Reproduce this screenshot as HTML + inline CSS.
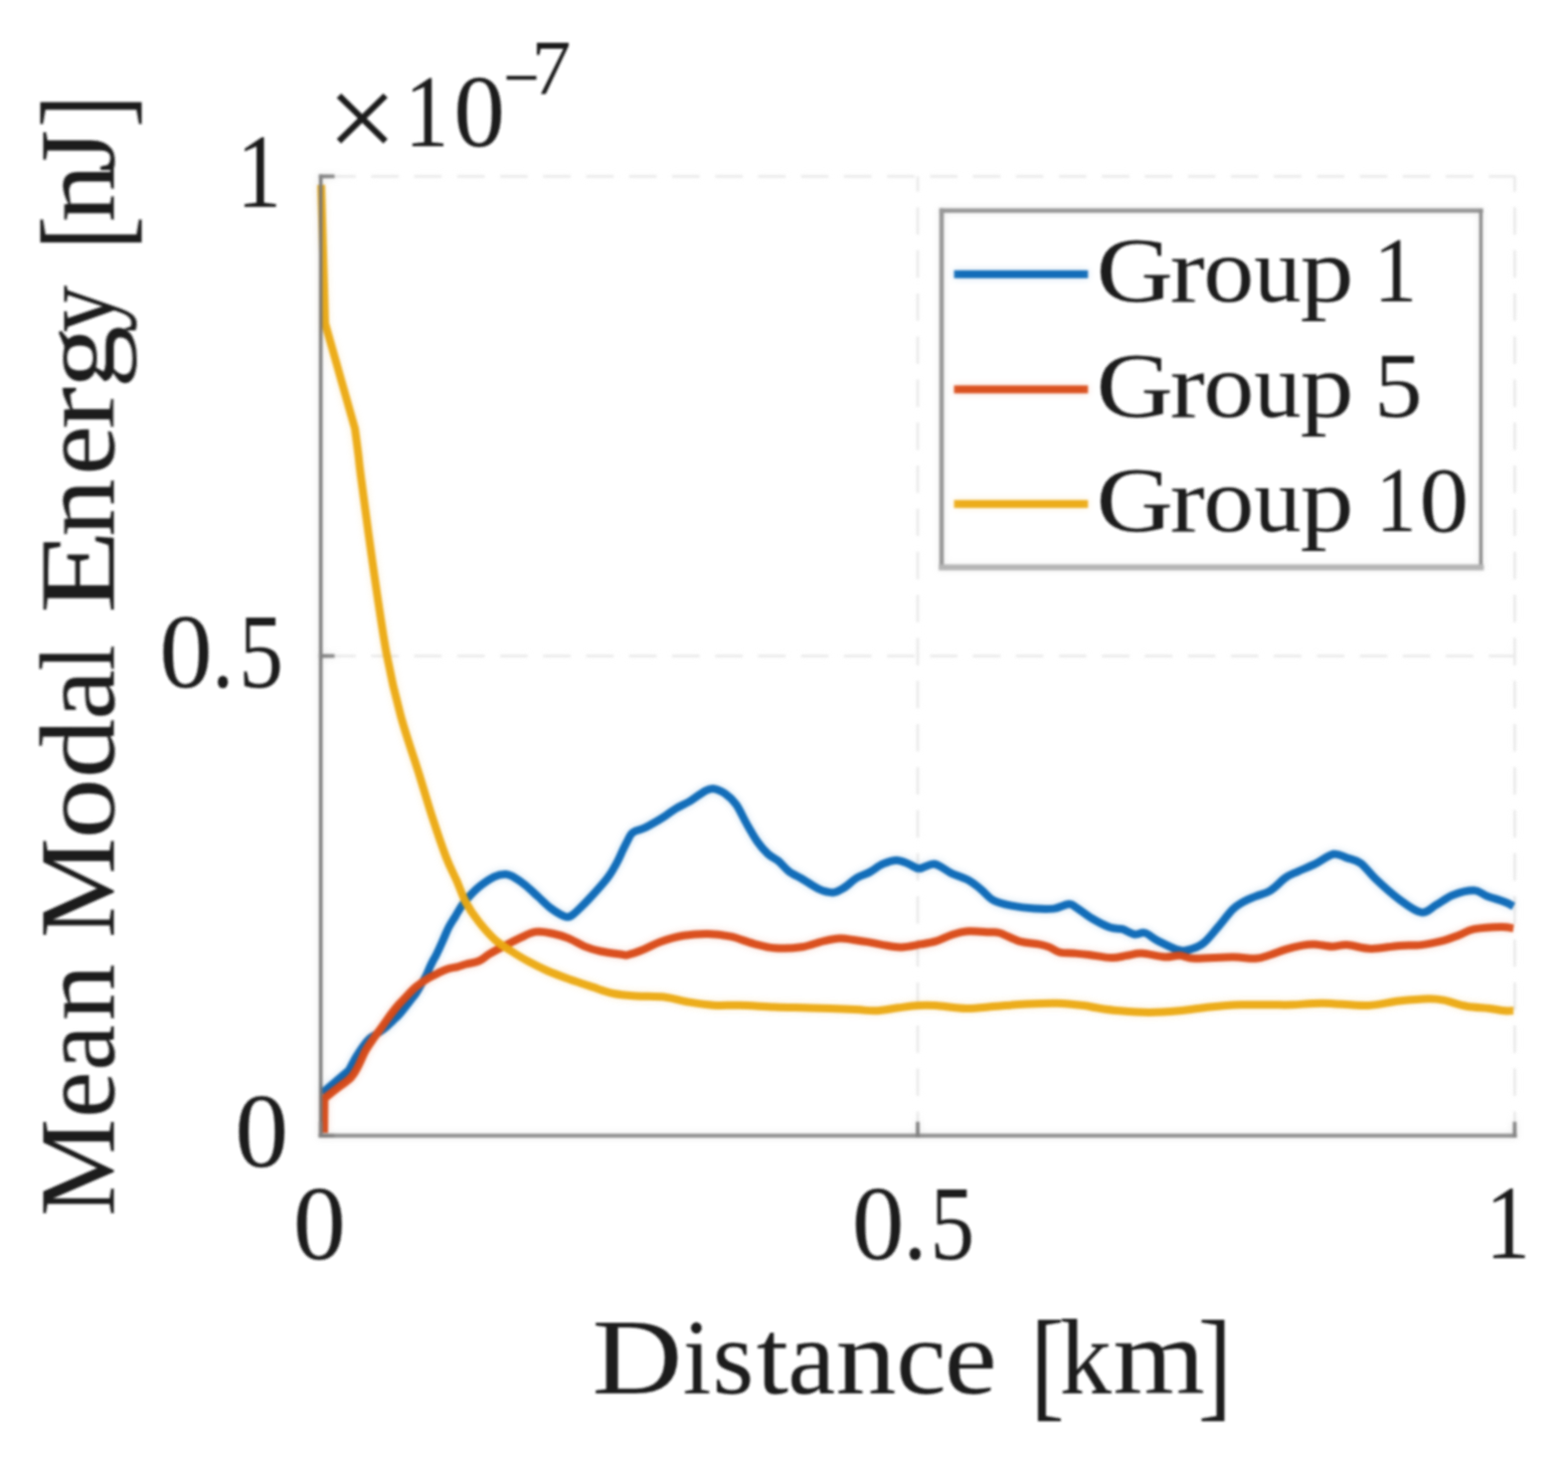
<!DOCTYPE html>
<html><head><meta charset="utf-8"><title>Mean Modal Energy vs Distance</title>
<style>
html,body{margin:0;padding:0;background:#fff;}
body{width:1577px;height:1469px;overflow:hidden;}
svg{display:block;font-family:"Liberation Serif","DejaVu Serif",serif;}

</style></head><body>
<svg width="1577" height="1469" viewBox="0 0 1577 1469">
<defs><filter id="soft" x="-2%" y="-2%" width="104%" height="104%" color-interpolation-filters="sRGB"><feGaussianBlur in="SourceGraphic" stdDeviation="1.2" result="a"/><feGaussianBlur in="SourceGraphic" stdDeviation="3.5" result="b"/><feComposite in="a" in2="b" operator="arithmetic" k1="0" k2="0.8" k3="0.2" k4="0"/></filter><filter id="softt" x="-2%" y="-2%" width="104%" height="104%"><feGaussianBlur stdDeviation="0.9"/></filter></defs>
<rect width="1577" height="1469" fill="#fff"/>
<g filter="url(#soft)">
<g stroke="#e9e9e9" stroke-width="2.8" fill="none">
<line x1="322.60" y1="177.30" x2="1523.40" y2="177.30" stroke-dasharray="27.7 15.53" stroke-dashoffset="-7.47"/>
<line x1="322.60" y1="659.55" x2="1523.40" y2="659.55" stroke-dasharray="27.7 15.53" stroke-dashoffset="-7.47"/>
<line x1="923.00" y1="177.30" x2="923.00" y2="1141.80" stroke-dasharray="27.7 15.6" stroke-dashoffset="-31.0"/>
<line x1="1523.40" y1="177.30" x2="1523.40" y2="1141.80" stroke-dasharray="27.7 15.6" stroke-dashoffset="-31.0"/>
</g>
<path d="M323.8,1099.2 L351.0,1076.0 C352.2,1073.8 355.8,1066.8 358.1,1062.9 C360.4,1059.0 362.6,1055.6 364.8,1052.5 C367.0,1049.4 369.1,1046.7 371.5,1044.5 C373.9,1042.3 376.4,1041.2 379.0,1039.5 C381.6,1037.8 384.3,1036.2 387.0,1034.0 C389.7,1031.8 392.5,1028.9 395.0,1026.5 C397.5,1024.1 399.8,1022.0 402.0,1019.5 C404.2,1017.0 406.6,1013.9 408.5,1011.5 C410.4,1009.1 411.9,1007.1 413.5,1005.0 C415.1,1002.9 416.7,1001.3 418.4,998.8 C420.1,996.3 421.8,993.0 423.5,990.0 C425.2,987.0 427.0,984.0 428.5,981.0 C430.0,978.0 431.2,974.7 432.5,972.0 C433.8,969.3 434.9,967.0 436.0,965.0 C437.1,963.0 437.3,963.1 438.8,960.0 C440.3,956.9 443.1,950.8 445.1,946.3 C447.2,941.8 449.0,936.8 451.1,932.7 C453.2,928.6 455.5,925.4 457.7,921.8 C459.9,918.2 462.1,914.0 464.2,910.9 C466.3,907.8 467.6,906.2 470.5,903.0 C473.4,899.8 477.5,895.3 481.9,891.7 C486.3,888.1 492.6,883.7 497.0,881.6 C501.4,879.5 505.3,879.0 508.5,879.0 C511.7,879.0 512.6,879.7 516.0,881.6 C519.4,883.5 524.5,887.0 528.8,890.4 C533.0,893.8 537.3,898.1 541.5,901.9 C545.7,905.7 549.9,910.1 554.1,913.3 C558.3,916.5 563.4,919.6 566.8,920.9 C570.2,922.2 571.2,922.6 574.4,920.9 C577.6,919.2 582.2,914.2 585.8,910.7 C589.4,907.2 591.9,904.5 596.0,900.0 C600.1,895.5 606.7,888.1 610.2,883.7 C613.7,879.3 615.1,876.7 617.0,873.5 C618.9,870.3 620.2,867.9 621.8,864.7 C623.4,861.5 625.0,857.6 626.5,854.5 C628.0,851.4 629.2,848.9 630.6,846.3 C632.0,843.7 633.2,840.6 634.7,838.8 C636.2,837.0 637.3,836.4 639.5,835.4 C641.7,834.4 644.6,834.1 647.7,832.7 C650.8,831.3 654.5,829.1 657.9,827.2 C661.3,825.3 664.4,823.5 668.1,821.1 C671.8,818.7 675.6,815.5 680.0,812.9 C684.4,810.3 689.5,808.3 694.3,805.4 C699.0,802.5 704.7,797.8 708.5,795.7 C712.3,793.6 713.8,792.6 717.3,793.0 C720.8,793.4 725.9,795.6 729.7,798.3 C733.6,800.9 736.9,803.9 740.4,808.9 C743.9,813.9 747.5,822.2 751.0,828.4 C754.5,834.6 758.1,841.1 761.6,846.1 C765.1,851.1 768.7,855.2 772.2,858.5 C775.7,861.8 779.2,862.6 782.8,865.6 C786.3,868.6 789.4,873.1 793.5,876.2 C797.6,879.3 802.6,881.2 807.6,884.2 C812.6,887.2 818.5,891.7 823.5,893.9 C828.5,896.1 833.6,897.5 837.7,897.4 C841.8,897.2 844.2,895.5 848.3,893.0 C852.4,890.5 857.9,885.0 862.2,882.4 C866.6,879.8 870.1,879.4 874.4,877.1 C878.7,874.8 883.4,870.7 888.0,868.7 C892.6,866.7 897.5,864.9 901.8,864.9 C906.1,864.9 910.1,867.3 913.9,868.7 C917.7,870.1 920.3,873.3 924.6,873.3 C928.9,873.3 934.5,868.0 939.8,868.7 C945.1,869.5 950.7,875.0 956.5,877.8 C962.3,880.6 969.7,882.6 974.8,885.4 C979.9,888.2 982.9,891.3 987.0,894.6 C991.1,897.9 994.1,902.5 999.2,905.2 C1004.3,907.9 1010.5,909.2 1017.4,910.6 C1024.2,912.0 1033.2,913.1 1040.3,913.6 C1047.4,914.1 1054.2,914.4 1060.0,913.6 C1065.8,912.8 1071.5,909.1 1075.3,909.0 C1079.1,908.9 1079.1,910.4 1082.9,912.8 C1086.7,915.2 1092.7,920.2 1098.3,923.5 C1103.9,926.8 1111.4,930.8 1116.5,932.6 C1121.6,934.4 1124.6,933.1 1128.7,934.2 C1132.8,935.4 1137.1,938.9 1140.9,939.5 C1144.7,940.1 1147.5,936.9 1151.5,938.0 C1155.5,939.1 1159.4,943.4 1165.2,946.3 C1171.0,949.2 1180.9,954.2 1186.5,955.5 C1192.1,956.8 1194.6,955.3 1198.7,954.0 C1202.8,952.7 1206.6,951.5 1210.9,947.9 C1215.2,944.3 1219.8,938.2 1224.6,932.6 C1229.4,927.0 1235.5,918.7 1239.8,914.4 C1244.1,910.1 1246.7,909.0 1250.5,906.8 C1254.3,904.6 1258.0,903.3 1262.6,901.4 C1267.2,899.5 1272.8,898.5 1277.9,895.3 C1283.0,892.1 1288.5,885.6 1293.1,882.4 C1297.7,879.2 1300.3,878.6 1305.3,876.3 C1310.2,874.0 1316.8,871.6 1322.8,868.7 C1328.8,865.8 1335.8,859.8 1341.1,858.8 C1346.4,857.8 1350.2,861.1 1354.8,862.6 C1359.4,864.1 1363.7,864.4 1368.5,867.9 C1373.3,871.4 1377.4,877.9 1383.7,883.9 C1390.0,889.9 1398.9,898.1 1406.5,903.7 C1414.1,909.3 1423.1,916.4 1429.4,917.4 C1435.8,918.4 1439.3,912.7 1444.6,909.8 C1449.9,906.9 1455.0,902.3 1461.3,899.9 C1467.6,897.5 1477.0,895.2 1482.6,895.3 C1488.2,895.4 1489.7,898.8 1494.8,900.7 C1499.9,902.6 1508.5,905.0 1513.1,906.8 C1517.7,908.6 1520.7,910.5 1522.2,911.3" fill="none" stroke="#0565b5" stroke-width="8.0" stroke-linejoin="round" stroke-linecap="butt"/>
<path d="M326.0,1139.0 L326.3,1104.5 C328.4,1102.8 334.6,1098.0 339.1,1094.4 C343.6,1090.8 349.8,1087.0 353.4,1083.0 C357.0,1079.0 358.6,1075.0 361.0,1070.6 C363.4,1066.1 365.3,1060.6 367.7,1056.3 C370.1,1052.0 372.4,1048.9 375.3,1044.8 C378.2,1040.7 381.9,1035.6 384.8,1031.5 C387.8,1027.4 390.3,1023.6 393.0,1020.0 C395.7,1016.4 398.3,1013.1 401.0,1010.0 C403.7,1006.9 406.4,1004.2 409.0,1001.5 C411.6,998.8 413.7,996.3 416.3,994.0 C418.9,991.7 422.0,989.5 424.7,987.6 C427.4,985.7 430.0,984.0 432.7,982.5 C435.4,981.0 437.9,979.8 440.8,978.4 C443.7,977.0 446.7,975.3 450.0,974.3 C453.3,973.2 457.3,972.9 460.4,972.1 C463.5,971.3 465.1,970.5 468.6,969.5 C472.2,968.5 477.9,967.9 481.7,966.3 C485.5,964.7 487.4,962.2 491.5,959.7 C495.6,957.2 501.0,954.3 506.2,951.6 C511.4,948.9 517.0,945.9 522.5,943.4 C528.0,940.9 533.4,937.7 538.9,936.9 C544.4,936.1 549.8,937.4 555.2,938.5 C560.7,939.6 566.1,941.2 571.6,943.4 C577.1,945.6 582.6,949.4 588.0,951.6 C593.4,953.8 598.0,955.1 604.2,956.5 C610.5,957.9 621.1,959.1 625.5,959.7 C629.9,960.3 627.1,961.1 630.6,960.3 C634.1,959.5 640.9,957.2 646.5,955.0 C652.1,952.8 657.4,949.4 664.2,947.0 C671.0,944.6 679.3,942.1 687.3,940.8 C695.3,939.5 704.0,938.9 712.0,939.0 C720.0,939.1 727.3,940.1 735.0,941.7 C742.7,943.3 750.6,946.9 758.0,948.8 C765.4,950.7 771.3,952.6 779.3,953.2 C787.3,953.8 797.5,953.5 805.8,952.3 C814.0,951.1 822.3,947.6 828.8,946.1 C835.3,944.6 839.6,943.6 844.8,943.5 C850.0,943.4 855.3,944.6 860.0,945.2 C864.7,945.8 868.1,946.3 872.8,947.1 C877.5,947.9 882.4,949.2 888.0,950.1 C893.6,951.0 899.9,952.5 906.3,952.4 C912.6,952.3 920.3,950.4 926.1,949.4 C931.9,948.4 936.2,947.8 941.3,946.3 C946.4,944.8 951.4,941.9 956.5,940.2 C961.6,938.6 965.4,936.9 971.8,936.4 C978.1,935.9 989.0,936.9 994.6,937.2 C1000.2,937.5 1000.2,936.5 1005.3,938.0 C1010.4,939.5 1018.4,944.4 1025.0,946.3 C1031.6,948.2 1039.7,948.4 1044.8,949.4 C1049.9,950.4 1052.0,951.0 1055.5,952.4 C1059.0,953.8 1062.0,956.7 1066.1,957.7 C1070.2,958.7 1075.2,958.1 1080.0,958.5 C1084.8,958.9 1088.9,959.2 1095.2,960.0 C1101.5,960.8 1111.7,963.0 1118.0,963.1 C1124.3,963.2 1128.2,961.6 1133.3,960.8 C1138.4,960.0 1142.2,958.2 1148.5,958.5 C1154.8,958.8 1165.0,961.9 1171.3,962.3 C1177.6,962.7 1181.4,960.5 1186.5,960.8 C1191.6,961.0 1192.9,963.5 1201.8,963.8 C1210.7,964.0 1229.7,962.3 1239.8,962.3 C1249.9,962.3 1256.2,964.2 1262.6,963.8 C1268.9,963.4 1272.8,961.5 1277.9,960.0 C1283.0,958.5 1288.0,956.2 1293.1,954.7 C1298.2,953.2 1303.6,951.8 1308.3,950.9 C1313.0,950.0 1316.1,949.3 1321.3,949.4 C1326.5,949.5 1334.0,951.6 1339.6,951.7 C1345.2,951.8 1348.2,949.7 1354.8,950.1 C1361.4,950.5 1370.5,953.8 1379.1,953.9 C1387.7,954.0 1398.1,951.5 1406.5,950.9 C1414.9,950.3 1421.8,951.0 1429.4,950.1 C1437.0,949.2 1445.9,947.2 1452.2,945.6 C1458.5,944.0 1462.3,942.1 1467.4,940.2 C1472.5,938.3 1475.5,935.6 1482.6,934.2 C1489.7,932.8 1503.4,932.0 1510.0,931.9 C1516.6,931.8 1520.2,933.1 1522.2,933.4" fill="none" stroke="#d84612" stroke-width="8.0" stroke-linejoin="round" stroke-linecap="butt"/>
<path d="M323.0,185.8 L327.0,325.0 L357.0,431.0 C357.6,435.3 359.4,448.8 360.4,457.0 C361.4,465.2 360.7,461.7 363.1,480.0 C365.5,498.3 370.6,537.2 374.9,567.0 C379.2,596.8 384.3,633.2 389.0,658.6 C393.7,684.0 397.5,699.4 403.0,719.6 C408.5,739.8 416.8,763.1 422.0,780.0 C427.2,796.9 430.1,807.2 434.5,820.8 C438.9,834.4 444.4,850.8 448.6,861.7 C452.8,872.6 456.3,878.6 459.6,886.2 C462.9,893.8 464.9,900.7 468.6,907.5 C472.3,914.3 476.8,920.8 481.7,927.0 C486.6,933.2 492.6,940.1 498.0,945.0 C503.4,949.9 508.9,953.0 514.4,956.5 C519.9,960.0 524.7,963.0 530.7,966.3 C536.7,969.5 543.5,973.0 550.3,976.0 C557.1,979.0 564.0,981.5 571.6,984.2 C579.2,986.9 588.4,989.9 596.0,992.4 C603.6,994.9 610.0,997.5 617.3,999.0 C624.6,1000.5 631.3,1000.8 640.0,1001.4 C648.7,1002.0 661.1,1001.7 669.6,1002.7 C678.1,1003.7 682.8,1005.9 690.8,1007.2 C698.8,1008.5 708.4,1010.1 717.3,1010.7 C726.1,1011.3 733.6,1010.4 743.9,1010.7 C754.2,1011.0 767.5,1012.0 779.3,1012.5 C791.1,1013.0 801.2,1013.0 814.7,1013.4 C828.2,1013.8 849.0,1014.6 860.0,1015.1 C871.0,1015.6 873.2,1016.6 880.4,1016.3 C887.6,1016.0 896.2,1014.2 903.3,1013.3 C910.4,1012.4 916.7,1011.4 923.0,1011.0 C929.3,1010.6 933.2,1010.5 941.3,1011.0 C949.4,1011.5 961.6,1013.9 971.8,1014.0 C981.9,1014.1 992.1,1012.5 1002.2,1011.8 C1012.3,1011.0 1022.5,1010.0 1032.6,1009.5 C1042.7,1009.0 1053.4,1008.5 1063.0,1008.7 C1072.6,1009.0 1083.4,1010.2 1090.0,1011.0 C1096.6,1011.8 1096.8,1012.4 1102.8,1013.3 C1108.8,1014.2 1116.8,1015.5 1125.7,1016.3 C1134.6,1017.1 1146.0,1017.9 1156.1,1017.9 C1166.2,1017.9 1176.3,1017.2 1186.5,1016.3 C1196.7,1015.4 1206.8,1013.5 1217.0,1012.5 C1227.2,1011.5 1237.2,1010.7 1247.4,1010.3 C1257.6,1009.9 1269.1,1010.3 1277.9,1010.3 C1286.7,1010.3 1291.2,1010.6 1300.0,1010.3 C1308.8,1010.0 1317.7,1008.6 1330.4,1008.7 C1343.1,1008.8 1363.4,1011.4 1376.1,1011.0 C1388.8,1010.6 1396.3,1007.6 1406.5,1006.5 C1416.7,1005.4 1429.4,1004.3 1437.0,1004.2 C1444.6,1004.1 1445.9,1004.4 1452.2,1005.7 C1458.5,1007.0 1467.4,1010.4 1475.0,1011.8 C1482.6,1013.2 1491.6,1013.2 1497.9,1014.0 C1504.2,1014.8 1509.0,1015.9 1513.1,1016.3 C1517.1,1016.7 1520.7,1016.3 1522.2,1016.3" fill="none" stroke="#eba80e" stroke-width="8.0" stroke-linejoin="round" stroke-linecap="butt"/>
<g stroke="#787878" stroke-width="3.8" fill="none" stroke-linecap="square">
<path d="M322.6,177.3 L322.6,1141.8" stroke="#707070" stroke-width="3.6"/>
<path d="M322.6,1141.8 L1523.4,1141.8" stroke="#8a8a8a" stroke-width="4.2"/>
<path d="M322.6,1141.8 h12"/>
<path d="M322.6,1141.8 v-12"/>
<path d="M322.6,659.55 h12"/>
<path d="M923.0000000000001,1141.8 v-12"/>
<path d="M322.6,177.29999999999995 h12"/>
<path d="M1523.4,1141.8 v-12"/>
</g>
<rect x="946.5" y="212.5" width="542.5" height="357.0" fill="#fff" stroke="none"/>
<g fill="none" stroke-linecap="square">
<path d="M947,211.8 L1489.4,211.8" stroke="#8e8e8e" stroke-width="4.4"/>
<path d="M947,211.8 L947,570.4" stroke="#8e8e8e" stroke-width="4.6"/>
<path d="M1489.4,211.8 L1489.4,570.4" stroke="#828282" stroke-width="3.6"/>
<path d="M947,570.4 L1489.4,570.4" stroke="#b0b0b0" stroke-width="6"/>
</g>
<line x1="959.5" y1="275.8" x2="1094.3" y2="275.8" stroke="#0565b5" stroke-width="8.0"/>
<line x1="959.5" y1="391.5" x2="1094.3" y2="391.5" stroke="#d84612" stroke-width="8.0"/>
<line x1="959.5" y1="506.8" x2="1094.3" y2="506.8" stroke="#eba80e" stroke-width="8.0"/>
</g>
<g filter="url(#softt)">
<text font-size="94" fill="#1e1e1e"><tspan x="1102.40" y="303.30" textLength="77.45" lengthAdjust="spacingAndGlyphs">G</tspan><tspan x="1176.70" y="303.30" textLength="34.92" lengthAdjust="spacingAndGlyphs">r</tspan><tspan x="1210.31" y="303.30" textLength="51.08" lengthAdjust="spacingAndGlyphs">o</tspan><tspan x="1261.35" y="303.30" textLength="47.37" lengthAdjust="spacingAndGlyphs">u</tspan><tspan x="1307.66" y="303.30" textLength="53.84" lengthAdjust="spacingAndGlyphs">p</tspan> <tspan x="1381.61" y="303.30" textLength="43.74" lengthAdjust="spacingAndGlyphs">1</tspan></text>
<text font-size="94" fill="#1e1e1e"><tspan x="1102.40" y="418.50" textLength="77.45" lengthAdjust="spacingAndGlyphs">G</tspan><tspan x="1176.70" y="418.50" textLength="34.92" lengthAdjust="spacingAndGlyphs">r</tspan><tspan x="1210.31" y="418.50" textLength="51.08" lengthAdjust="spacingAndGlyphs">o</tspan><tspan x="1261.35" y="418.50" textLength="47.37" lengthAdjust="spacingAndGlyphs">u</tspan><tspan x="1307.66" y="418.50" textLength="53.84" lengthAdjust="spacingAndGlyphs">p</tspan> <tspan x="1382.39" y="418.50" textLength="48.28" lengthAdjust="spacingAndGlyphs">5</tspan></text>
<text font-size="94" fill="#1e1e1e"><tspan x="1102.40" y="533.50" textLength="77.45" lengthAdjust="spacingAndGlyphs">G</tspan><tspan x="1176.70" y="533.50" textLength="34.92" lengthAdjust="spacingAndGlyphs">r</tspan><tspan x="1210.31" y="533.50" textLength="51.08" lengthAdjust="spacingAndGlyphs">o</tspan><tspan x="1261.35" y="533.50" textLength="47.37" lengthAdjust="spacingAndGlyphs">u</tspan><tspan x="1307.66" y="533.50" textLength="53.84" lengthAdjust="spacingAndGlyphs">p</tspan> <tspan x="1383.91" y="533.50" textLength="40.34" lengthAdjust="spacingAndGlyphs">1</tspan><tspan x="1427.63" y="533.50" textLength="49.55" lengthAdjust="spacingAndGlyphs">0</tspan></text>
<text y="1266.00" font-size="105" fill="#1e1e1e" ><tspan x="294.66" textLength="53.09" lengthAdjust="spacingAndGlyphs">0</tspan></text>
<text font-size="105" fill="#1e1e1e"><tspan x="856.78" y="1266.00" textLength="52.73" lengthAdjust="spacingAndGlyphs">0</tspan><tspan x="908.55" y="1266.00" textLength="23.70" lengthAdjust="spacingAndGlyphs">.</tspan><tspan x="935.42" y="1266.00" textLength="44.56" lengthAdjust="spacingAndGlyphs">5</tspan></text>
<text y="1265.00" font-size="105" fill="#1e1e1e" ><tspan x="1494.09" textLength="45.02" lengthAdjust="spacingAndGlyphs">1</tspan></text>
<text y="208.00" font-size="105" fill="#1e1e1e" ><tspan x="237.89" textLength="45.02" lengthAdjust="spacingAndGlyphs">1</tspan></text>
<text font-size="105" fill="#1e1e1e"><tspan x="160.33" y="691.00" textLength="53.44" lengthAdjust="spacingAndGlyphs">0</tspan><tspan x="213.25" y="691.00" textLength="21.79" lengthAdjust="spacingAndGlyphs">.</tspan><tspan x="240.31" y="691.00" textLength="44.68" lengthAdjust="spacingAndGlyphs">5</tspan></text>
<text y="1173.00" font-size="105" fill="#1e1e1e" ><tspan x="236.19" textLength="53.91" lengthAdjust="spacingAndGlyphs">0</tspan></text>
<text font-size="104" fill="#1e1e1e"><tspan x="328.84" y="160.13" font-size="122" textLength="70.99" lengthAdjust="spacingAndGlyphs">×</tspan><tspan x="407.01" y="147.00" textLength="44.31" lengthAdjust="spacingAndGlyphs">1</tspan><tspan x="456.26" y="147.00" textLength="51.67" lengthAdjust="spacingAndGlyphs">0</tspan><tspan x="506.29" y="104.56" font-size="80" textLength="36.36" lengthAdjust="spacingAndGlyphs">−</tspan><tspan x="534.80" y="94.00" font-size="78" textLength="39.48" lengthAdjust="spacingAndGlyphs">7</tspan></text>
<text font-size="108" fill="#1e1e1e"><tspan x="595.48" y="1401.00" textLength="90.86" lengthAdjust="spacingAndGlyphs">D</tspan><tspan x="686.75" y="1401.00" textLength="28.51" lengthAdjust="spacingAndGlyphs">i</tspan><tspan x="716.50" y="1401.00" textLength="41.78" lengthAdjust="spacingAndGlyphs">s</tspan><tspan x="760.87" y="1401.00" textLength="32.21" lengthAdjust="spacingAndGlyphs">t</tspan><tspan x="792.31" y="1401.00" textLength="47.87" lengthAdjust="spacingAndGlyphs">a</tspan><tspan x="840.50" y="1401.00" textLength="60.94" lengthAdjust="spacingAndGlyphs">n</tspan><tspan x="901.37" y="1401.00" textLength="50.42" lengthAdjust="spacingAndGlyphs">c</tspan><tspan x="949.75" y="1401.00" textLength="52.89" lengthAdjust="spacingAndGlyphs">e</tspan> <tspan x="1036.33" y="1413.00" font-size="123" textLength="34.40" lengthAdjust="spacingAndGlyphs">[</tspan><tspan x="1065.71" y="1401.00" textLength="52.19" lengthAdjust="spacingAndGlyphs">k</tspan><tspan x="1119.51" y="1401.00" textLength="92.35" lengthAdjust="spacingAndGlyphs">m</tspan><tspan x="1204.87" y="1413.00" font-size="123" textLength="34.40" lengthAdjust="spacingAndGlyphs">]</tspan></text>
<text transform="translate(114.50,0) rotate(-90)" font-size="108" fill="#1e1e1e"><tspan x="-1222.98" y="0.00" textLength="98.22" lengthAdjust="spacingAndGlyphs">M</tspan><tspan x="-1123.89" y="0.00" textLength="46.53" lengthAdjust="spacingAndGlyphs">e</tspan><tspan x="-1076.54" y="0.00" textLength="45.96" lengthAdjust="spacingAndGlyphs">a</tspan><tspan x="-1026.54" y="0.00" textLength="57.48" lengthAdjust="spacingAndGlyphs">n</tspan> <tspan x="-943.27" y="0.00" textLength="101.00" lengthAdjust="spacingAndGlyphs">M</tspan><tspan x="-843.55" y="0.00" textLength="60.99" lengthAdjust="spacingAndGlyphs">o</tspan><tspan x="-782.51" y="0.00" textLength="59.67" lengthAdjust="spacingAndGlyphs">d</tspan><tspan x="-723.80" y="0.00" textLength="50.45" lengthAdjust="spacingAndGlyphs">a</tspan><tspan x="-674.59" y="0.00" textLength="26.29" lengthAdjust="spacingAndGlyphs">l</tspan> <tspan x="-617.08" y="0.00" textLength="84.36" lengthAdjust="spacingAndGlyphs">E</tspan><tspan x="-539.88" y="0.00" textLength="58.45" lengthAdjust="spacingAndGlyphs">n</tspan><tspan x="-477.79" y="0.00" textLength="49.89" lengthAdjust="spacingAndGlyphs">e</tspan><tspan x="-431.88" y="0.00" textLength="42.91" lengthAdjust="spacingAndGlyphs">r</tspan><tspan x="-390.66" y="0.00" textLength="63.59" lengthAdjust="spacingAndGlyphs">g</tspan><tspan x="-334.16" y="0.00" textLength="47.33" lengthAdjust="spacingAndGlyphs">y</tspan> <tspan x="-251.60" y="12.00" font-size="123" textLength="34.55" lengthAdjust="spacingAndGlyphs">[</tspan><tspan x="-223.50" y="0.00" textLength="58.89" lengthAdjust="spacingAndGlyphs">n</tspan><tspan x="-173.30" y="0.00" textLength="42.60" lengthAdjust="spacingAndGlyphs">J</tspan><tspan x="-128.27" y="12.00" font-size="123" textLength="32.90" lengthAdjust="spacingAndGlyphs">]</tspan></text>
</g>
</svg>
</body></html>
